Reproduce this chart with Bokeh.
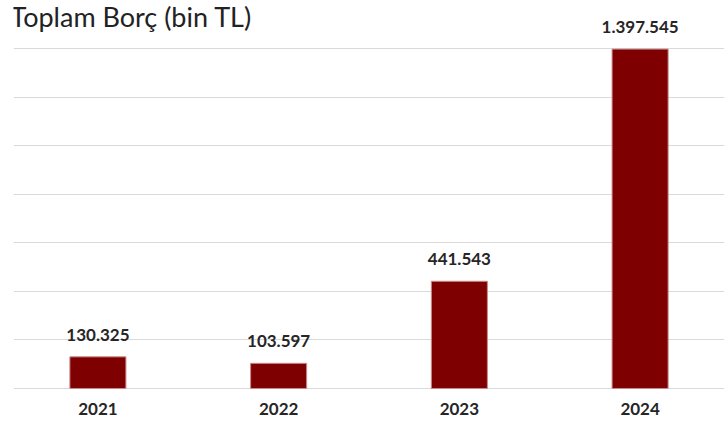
from bokeh.plotting import figure
from bokeh.models import ColumnDataSource, FactorRange, Range1d, FixedTicker, LabelSet, Label
from bokeh.core.properties import value
from bokeh.embed import file_html
from bokeh.resources import INLINE

years = ["2021", "2022", "2023", "2024"]
debt = [130325, 103597, 441543, 1397545]
grid_ticks = [0, 200000, 400000, 600000, 800000, 1000000, 1200000, 1400000]
title_text = "Toplam Borç (bin TL)"

labels = [f"{v:,}".replace(",", ".") for v in debt]
src = ColumnDataSource(dict(year=years, debt=debt, label=labels))

p = figure(
    x_range=FactorRange(factors=years, range_padding=-0.0165),
    y_range=Range1d(-4118, 1597647),
    width=724, height=425,
    output_backend="svg", toolbar_location=None,
    min_border_left=13, min_border_right=0, min_border_top=0, min_border_bottom=36,
)
p.outline_line_color = None
p.background_fill_color = "white"
p.border_fill_color = "white"

p.vbar(x="year", top="debt", width=0.31, source=src,
       fill_color="#7f0000", line_color="#c98a8a", line_width=1)

p.add_layout(LabelSet(x="year", y="debt", text="label", source=src,
                      text_align="center", text_baseline="bottom", y_offset=16,
                      text_font=value("Lato"), text_font_style="bold",
                      text_font_size="17px", text_color="#262626"))

p.add_layout(Label(x=-3, y=373, x_units="screen", y_units="screen",
                   text=title_text, text_font="Lato", text_font_size="27px",
                   text_color="#222222", text_baseline="alphabetic",
                   text_align="left"))

p.yaxis.visible = False
p.ygrid.ticker = FixedTicker(ticks=grid_ticks)
p.ygrid.grid_line_color = "#d9d9d9"
p.ygrid.grid_line_width = 1
p.xgrid.grid_line_color = None

ax = p.xaxis[0]
ax.axis_line_color = None
ax.major_tick_line_color = None
ax.minor_tick_line_color = None
ax.major_tick_out = 0
ax.major_label_standoff = 13
ax.major_label_text_font = "Lato"
ax.major_label_text_font_style = "bold"
ax.major_label_text_font_size = "17px"
ax.major_label_text_color = "#262626"

open("out.html", "w").write(file_html(p, INLINE))
